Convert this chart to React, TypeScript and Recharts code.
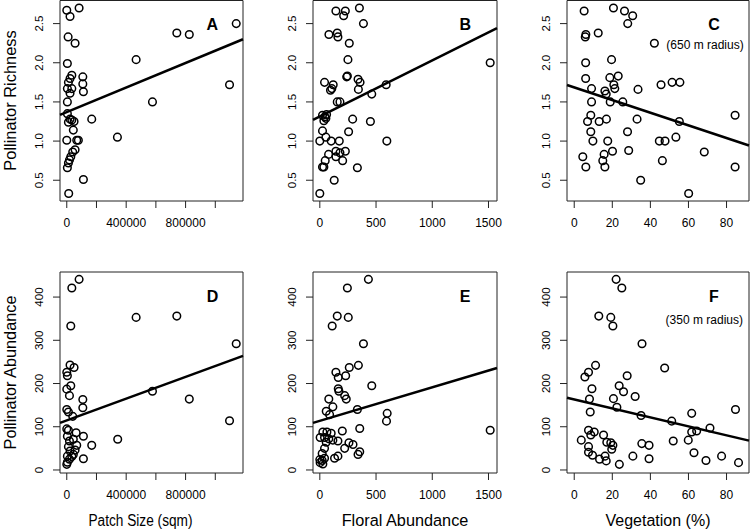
import React from "react";
import {
  ScatterChart,
  Scatter,
  XAxis,
  YAxis,
  ReferenceLine,
  ReferenceArea,
} from "recharts";

const FONT = "'Liberation Sans', Arial, Helvetica, sans-serif";
const W = 750;
const H = 531;

// Panel A: patch size (sqm) vs pollinator richness
const patchA = [0, 83000, 22000, 9000, 56000, 1141000, 741000, 825000, 467000, 1096000, 577000, 13000, 4000, 34000, 22000, 11000, 4000, 34000, 22000, 108000, 108000, 112000, 4000, 4000, 22000, 34000, 49000, 11000, 168000, 44000, 0, 67000, 78000, 341000, 56000, 40000, 27000, 18000, 11000, 4000, 112000];
const richA = [2.67, 2.7, 2.59, 2.33, 2.25, 2.5, 2.38, 2.36, 2.04, 1.72, 1.5, 0.33, 1.99, 1.84, 1.8, 1.75, 1.67, 1.67, 1.61, 1.82, 1.73, 1.63, 1.5, 1.35, 1.28, 1.27, 1.25, 1.24, 1.28, 1.14, 1.01, 1.01, 1.01, 1.05, 0.89, 0.86, 0.8, 0.76, 0.72, 0.66, 0.51];

// Panel B: floral abundance vs pollinator richness
const floralB = [143, 227, 212, 352, 388, 81, 155, 161, 262, 250, 1515, 239, 245, 340, 358, 42, 119, 107, 95, 343, 590, 462, 155, 179, 60, 24, 45, 36, 54, 292, 450, 24, 256, 54, 0, 101, 173, 596, 78, 143, 179, 227, 143, 48, 203, 24, 36, 334, 128, 0];
const richB = [2.66, 2.66, 2.6, 2.7, 2.5, 2.36, 2.38, 2.33, 2.25, 2.04, 2.0, 1.82, 1.83, 1.79, 1.75, 1.75, 1.72, 1.67, 1.65, 1.66, 1.72, 1.6, 1.5, 1.5, 1.34, 1.33, 1.31, 1.26, 1.29, 1.28, 1.25, 1.13, 1.12, 1.05, 1.0, 1.0, 1.0, 1.0, 0.83, 0.87, 0.85, 0.87, 0.8, 0.75, 0.75, 0.67, 0.67, 0.66, 0.5, 0.33];

// Panel C: vegetation % (650 m) vs pollinator richness
const vegC = [5.2, 20.6, 26.4, 30.7, 28.1, 6.1, 5.8, 12.6, 42.1, 6.0, 19.6, 6.0, 18.7, 23.1, 20.8, 21.3, 9.1, 16.1, 16.8, 18.9, 9.1, 25.5, 33.5, 45.6, 51.4, 55.5, 8.7, 7.0, 13.1, 16.9, 33.0, 55.2, 84.5, 8.7, 28.0, 9.8, 17.6, 44.7, 47.7, 53.4, 4.5, 15.7, 20.1, 28.6, 15.0, 46.3, 68.3, 6.1, 16.1, 84.5, 34.9, 60.1];
const richC = [2.66, 2.7, 2.66, 2.6, 2.5, 2.36, 2.33, 2.38, 2.25, 2.0, 2.04, 1.8, 1.81, 1.83, 1.72, 1.67, 1.67, 1.64, 1.6, 1.5, 1.5, 1.5, 1.66, 1.72, 1.75, 1.75, 1.33, 1.25, 1.25, 1.28, 1.28, 1.25, 1.33, 1.12, 1.12, 1.0, 1.0, 1.0, 1.0, 1.05, 0.8, 0.83, 0.87, 0.88, 0.75, 0.75, 0.86, 0.67, 0.67, 0.67, 0.5, 0.33];

// Panel D: patch size vs pollinator abundance
const patchD = [83000, 34000, 27000, 467000, 741000, 1141000, 577000, 825000, 1096000, 22000, 49000, 0, 4000, 27000, 0, 18000, 108000, 108000, 0, 11000, 40000, 0, 11000, 63000, 112000, 168000, 343000, 18000, 44000, 67000, 11000, 22000, 56000, 44000, 4000, 18000, 112000, 0, 4000, 34000, 4000];
const abundD = [441, 421, 333, 353, 356, 292, 182, 164, 114, 243, 237, 226, 218, 195, 187, 172, 163, 144, 140, 134, 124, 95, 92, 86, 78, 57, 71, 67, 71, 57, 54, 44, 46, 36, 32, 25, 26, 13, 18, 31, 78];

// Panel E: floral abundance vs pollinator abundance
const floralE = [432, 245, 155, 253, 110, 388, 343, 262, 143, 164, 230, 462, 164, 1515, 80, 116, 57, 87, 170, 221, 235, 334, 599, 593, 200, 355, 27, 63, 101, 3, 42, 80, 116, 161, 57, 259, 295, 221, 42, 21, 355, 340, 161, 131, 42, 21, 3, 27, 0];
const abundE = [441, 421, 356, 353, 333, 292, 242, 237, 226, 214, 218, 195, 188, 92, 164, 146, 136, 128, 182, 172, 164, 140, 131, 113, 90, 96, 88, 88, 85, 75, 75, 72, 69, 67, 64, 63, 59, 50, 50, 38, 42, 36, 32, 27, 27, 22, 17, 14, 24];

// Panel F: vegetation % (350 m) vs pollinator abundance
const vegF = [22.0, 25.0, 12.9, 19.2, 20.3, 35.6, 47.5, 11.2, 7.5, 5.6, 27.8, 23.6, 9.3, 25.9, 8.0, 8.4, 20.6, 22.4, 32.0, 35.1, 51.2, 61.7, 84.7, 71.3, 64.3, 61.7, 59.9, 52.0, 62.9, 69.2, 77.4, 86.3, 39.3, 35.5, 39.3, 30.8, 23.7, 3.7, 7.5, 10.5, 8.7, 15.4, 17.1, 19.2, 20.3, 19.7, 7.5, 7.5, 9.6, 13.3, 16.2, 16.8];
const abundF = [441, 421, 356, 353, 333, 292, 236, 242, 226, 215, 218, 195, 188, 181, 164, 134, 165, 145, 170, 126, 113, 131, 140, 97, 90, 88, 69, 67, 40, 22, 32, 17, 57, 61, 26, 32, 13, 69, 92, 88, 81, 81, 64, 63, 57, 48, 54, 41, 34, 25, 32, 21];

// fitted lines: [intercept, slope]
const fitA = [1.371, 7.83e-7];
const fitB = [1.314, 7.17e-4];
const fitC = [1.686, -0.00808];
const fitD = [114.7, 1.258e-4];
const fitE = [113.7, 0.0776];
const fitF = [163.2, -1.038];

// axis ticks
const patchTicks = [0, 200000, 400000, 600000, 800000, 1000000];
const patchLabels = ["0", "", "400000", "", "800000", ""];
const floralTicks = [0, 500, 1000, 1500];
const vegTicks = [0, 20, 40, 60, 80];
const richTicks = [0.5, 1.0, 1.5, 2.0, 2.5];
const abundTicks = [0, 100, 200, 300, 400];

const patchDomain = [-45640, 1186640];
const floralDomain = [-60.6, 1575.6];
const vegDomain = [-3.8, 91.8];
const richDomain = [0.235, 2.795];
const abundDomain = [-7, 458];

const Ring = (p: any) => (
  <circle cx={p.cx} cy={p.cy} r={3.8} fill="none" stroke="#000" strokeWidth={1.5} />
);

function YTick(props: any) {
  const { x, y, payload, fmt } = props;
  const tx = x - 9.5;
  return (
    <text
      x={tx}
      y={y}
      transform={`rotate(-90 ${tx} ${y})`}
      textAnchor="middle"
      fontSize={11.5}
      fontFamily={FONT}
      fill="#000"
    >
      {fmt(payload.value)}
    </text>
  );
}

interface PanelProps {
  xs: number[];
  ys: number[];
  xDomain: number[];
  yDomain: number[];
  xTicks: number[];
  xFormat: (v: number) => string;
  yTicks: number[];
  yFormat: (v: number) => string;
  fit: number[];
  rect: number[];
}

function Panel({ xs, ys, xDomain, yDomain, xTicks, xFormat, yTicks, yFormat, fit, rect }: PanelProps) {
  const data = xs.map((x, i) => ({ x, y: ys[i] }));
  const [x0, y0, w, h] = rect;
  const seg = [
    { x: xDomain[0], y: fit[0] + fit[1] * xDomain[0] },
    { x: xDomain[1], y: fit[0] + fit[1] * xDomain[1] },
  ];
  return (
    <div style={{ position: "absolute", left: 0, top: 0 }}>
      <ScatterChart
        width={W}
        height={H}
        margin={{ top: y0, left: 0, right: W - x0 - w, bottom: H - y0 - h - 35 }}
      >
        <XAxis
          type="number"
          dataKey="x"
          domain={xDomain}
          ticks={xTicks}
          interval={0}
          allowDataOverflow
          axisLine={false}
          tickSize={7}
          tickMargin={10}
          height={35}
          tickFormatter={xFormat}
          tickLine={{ stroke: "#222" }}
          tick={{ fontSize: 12, fill: "#000", fontFamily: FONT }}
        />
        <YAxis
          type="number"
          dataKey="y"
          domain={yDomain}
          ticks={yTicks}
          interval={0}
          allowDataOverflow
          axisLine={false}
          tickSize={7}
          tickMargin={0}
          width={x0}
          tickLine={{ stroke: "#222" }}
          tick={(p: any) => <YTick {...p} fmt={yFormat} />}
        />
        <ReferenceArea
          x1={xDomain[0]}
          x2={xDomain[1]}
          y1={yDomain[0]}
          y2={yDomain[1]}
          fill="none"
          stroke="#222"
          strokeWidth={1}
          ifOverflow="visible"
        />
        <Scatter data={data} isAnimationActive={false} shape={Ring} />
        <ReferenceLine segment={seg} stroke="#000" strokeWidth={2.5} ifOverflow="visible" />
      </ScatterChart>
    </div>
  );
}

const patchFmt = (v: number) => patchLabels[patchTicks.indexOf(v)] ?? "";
const plainFmt = (v: number) => String(v);
const richFmt = (v: number) => v.toFixed(1);

export default function App() {
  const topY = 0.5;
  const topH = 200.5;
  const botY = 272;
  const botH = 201;
  const textStyle = { fontFamily: FONT, fill: "#000" };
  return (
    <div style={{ position: "absolute", left: 0, top: 0, width: W, height: H, overflow: "hidden", background: "#fff" }}>
      <Panel xs={patchA} ys={richA} xDomain={patchDomain} yDomain={richDomain} xTicks={patchTicks} xFormat={patchFmt} yTicks={richTicks} yFormat={richFmt} fit={fitA} rect={[60, topY, 183, topH]} />
      <Panel xs={floralB} ys={richB} xDomain={floralDomain} yDomain={richDomain} xTicks={floralTicks} xFormat={plainFmt} yTicks={richTicks} yFormat={richFmt} fit={fitB} rect={[313, topY, 184, topH]} />
      <Panel xs={vegC} ys={richC} xDomain={vegDomain} yDomain={richDomain} xTicks={vegTicks} xFormat={plainFmt} yTicks={richTicks} yFormat={richFmt} fit={fitC} rect={[567, topY, 182, topH]} />
      <Panel xs={patchD} ys={abundD} xDomain={patchDomain} yDomain={abundDomain} xTicks={patchTicks} xFormat={patchFmt} yTicks={abundTicks} yFormat={plainFmt} fit={fitD} rect={[60, botY, 183, botH]} />
      <Panel xs={floralE} ys={abundE} xDomain={floralDomain} yDomain={abundDomain} xTicks={floralTicks} xFormat={plainFmt} yTicks={abundTicks} yFormat={plainFmt} fit={fitE} rect={[313, botY, 184, botH]} />
      <Panel xs={vegF} ys={abundF} xDomain={vegDomain} yDomain={abundDomain} xTicks={vegTicks} xFormat={plainFmt} yTicks={abundTicks} yFormat={plainFmt} fit={fitF} rect={[567, botY, 182, botH]} />

      {/* titles, panel letters and notes */}
      <svg width={W} height={H} style={{ position: "absolute", left: 0, top: 0, pointerEvents: "none" }}>
        <text x={15.5} y={100.5} transform="rotate(-90 15.5 100.5)" textAnchor="middle" fontSize={16.4} {...textStyle}>
          Pollinator Richness
        </text>
        <text x={15.5} y={372.5} transform="rotate(-90 15.5 372.5)" textAnchor="middle" fontSize={16.3} {...textStyle}>
          Pollinator Abundance
        </text>
        <text x={140.5} y={526} textAnchor="middle" fontSize={16} textLength={104} lengthAdjust="spacingAndGlyphs" {...textStyle}>
          Patch Size (sqm)
        </text>
        <text x={405} y={526} textAnchor="middle" fontSize={16.3} {...textStyle}>
          Floral Abundance
        </text>
        <text x={658} y={526} textAnchor="middle" fontSize={16} {...textStyle}>
          Vegetation (%)
        </text>

        <text x={212.2} y={30} textAnchor="middle" fontSize={16} fontWeight="bold" {...textStyle}>A</text>
        <text x={465.3} y={30} textAnchor="middle" fontSize={16} fontWeight="bold" {...textStyle}>B</text>
        <text x={714} y={30} textAnchor="middle" fontSize={16} fontWeight="bold" {...textStyle}>C</text>
        <text x={212.5} y={302.3} textAnchor="middle" fontSize={16} fontWeight="bold" {...textStyle}>D</text>
        <text x={465} y={302.3} textAnchor="middle" fontSize={16} fontWeight="bold" {...textStyle}>E</text>
        <text x={714} y={302.3} textAnchor="middle" fontSize={16} fontWeight="bold" {...textStyle}>F</text>

        <text x={705} y={48.5} textAnchor="middle" fontSize={12} {...textStyle}>(650 m radius)</text>
        <text x={704.3} y={323.5} textAnchor="middle" fontSize={12} {...textStyle}>(350 m radius)</text>
      </svg>
    </div>
  );
}
